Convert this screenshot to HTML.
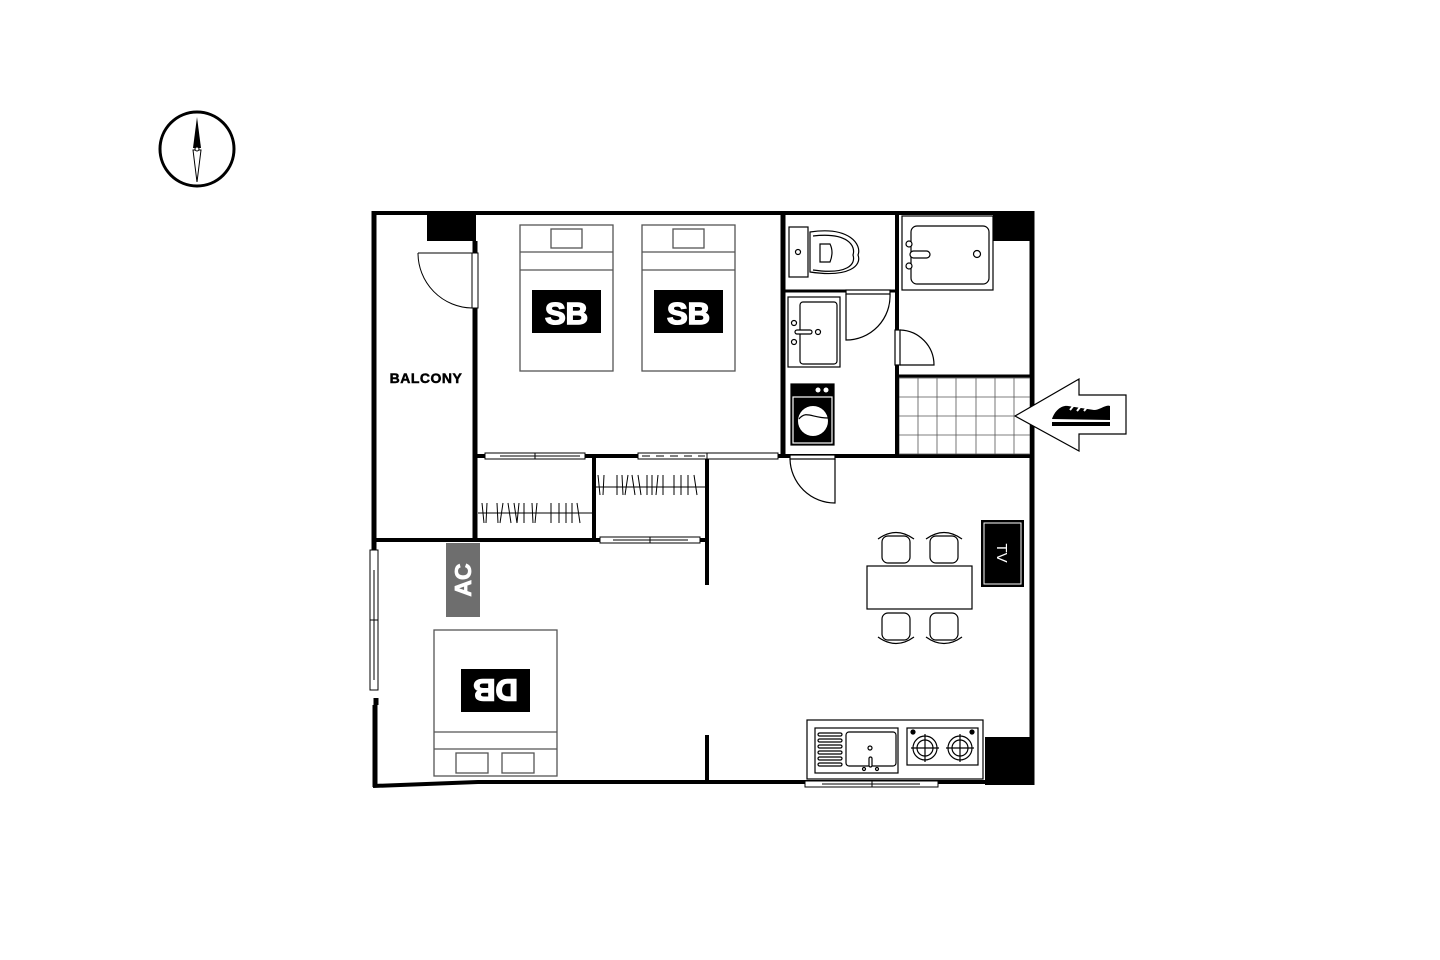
<!DOCTYPE html>
<html><head><meta charset="utf-8"><style>html,body{margin:0;padding:0;background:#fff}svg{display:block}</style></head><body>
<svg width="1440" height="960" viewBox="0 0 1440 960" xmlns="http://www.w3.org/2000/svg" font-family="Liberation Sans, sans-serif">
<rect width="1440" height="960" fill="#fff"/>
<circle cx="197" cy="149" r="37" fill="none" stroke="#000" stroke-width="3"/>
<polygon points="197,117 193,148 201,148" fill="#000"/>
<polygon points="197,182 193,150 201,150" fill="#fff" stroke="#000" stroke-width="1"/>
<circle cx="197" cy="149" r="2" fill="#fff" stroke="#000"/>

<g stroke="#000" fill="none">
<path d="M372,213 H1034" stroke-width="4"/>
<path d="M374,211 V550" stroke-width="5"/>
<path d="M376,698 V705" stroke-width="5"/>
<path d="M375,705 V787" stroke-width="5"/>
<path d="M373,786 L478,782 H1034" stroke-width="4"/>
<path d="M1032,211 V785" stroke-width="5"/>
<path d="M475,241 V253 M475,308 V540" stroke-width="5"/>
<path d="M783,213 V455" stroke-width="5"/>
<path d="M475,456 H1032" stroke-width="4"/>
<path d="M594,456 V540" stroke-width="4"/>
<path d="M707,456 V585 M707,735 V784" stroke-width="4"/>
<path d="M374,540 H707" stroke-width="4"/>
<path d="M785,291 H897" stroke-width="3"/>
<path d="M897,213 V330 M897,365 V455" stroke-width="4"/>
<path d="M897,376 H1032" stroke-width="3"/>
</g>
<rect x="427" y="213" width="49" height="28" fill="#000"/>
<rect x="993" y="213" width="41" height="28" fill="#000"/>
<rect x="985" y="737" width="49" height="48" fill="#000"/>

<g stroke="#000" fill="#fff" stroke-width="1">
<rect x="472" y="253" width="6" height="55"/>
<path d="M418,253 H472 M418,253 A55,55 0 0 0 472,308" fill="none"/>
<rect x="485" y="453" width="100" height="6"/>
<path d="M500,456 H580 M535,453 V459" fill="none"/>
<rect x="638" y="453" width="140" height="6"/>
<path d="M642,456 H705" stroke-dasharray="8,6" fill="none"/>
<path d="M707,453 V459" fill="none"/>
<rect x="600" y="537" width="100" height="6"/>
<path d="M613,540 H688 M650,537 V543" fill="none"/>
<rect x="370" y="550" width="8" height="140"/>
<path d="M374,570 V680 M370,620 H378" fill="none"/>
<rect x="805" y="781" width="133" height="6"/>
<path d="M822,784 H920 M872,781 V787" fill="none"/>
<path d="M478,513 H592 M596,487 H707" fill="none"/>
<path d="M482,503 l2,20 M487,503 l-1,20 M497,503 l1,20 M503,503 l-3,20 M508,503 l3,20 M514,503 l3,20 M519,503 l-2,20 M524,503 l0,20 M532,503 l1,20 M537,503 l-2,20 M551,503 l0,20 M559,503 l0,20 M566,503 l0,20 M572,503 l0,20 M577,503 l3,20" fill="none"/>
<path d="M598,475 l2,20 M604,475 l-1,20 M617,475 l0,20 M622,475 l1,20 M628,475 l-3,20 M632,475 l3,20 M638,475 l3,20 M647,475 l0,20 M652,475 l0,20 M658,475 l-2,20 M663,475 l0,20 M674,475 l0,20 M681,475 l0,20 M688,475 l0,20 M694,475 l3,20" fill="none"/>
</g>

<g stroke="#555" stroke-width="1.3" fill="#fff">
<rect x="520" y="225" width="93" height="146"/>
<path d="M520,252 H613 M520,270 H613"/>
<rect x="551" y="229" width="31" height="19"/>
<rect x="642" y="225" width="93" height="146"/>
<path d="M642,252 H735 M642,270 H735"/>
<rect x="673" y="229" width="31" height="19"/>
<rect x="434" y="630" width="123" height="146"/>
<path d="M434,732 H557 M434,749 H557"/>
<rect x="456" y="753" width="32" height="20"/>
<rect x="502" y="753" width="32" height="20"/>
</g>
<g font-weight="bold" fill="#fff" stroke="#fff" stroke-width="1.5" text-anchor="middle" font-size="31">
<rect x="532" y="290" width="69" height="43" fill="#000" stroke="none"/>
<text x="566.5" y="324">SB</text>
<rect x="654" y="290" width="69" height="43" fill="#000" stroke="none"/>
<text x="688.5" y="324">SB</text>
<rect x="461" y="669" width="69" height="43" fill="#000" stroke="none"/>
<text transform="translate(495.5,690.5) rotate(180)" y="11">DB</text>
</g>
<text x="426" y="383" font-size="14" font-weight="bold" fill="#000" stroke="#000" stroke-width="0.5" text-anchor="middle" letter-spacing="0.5">BALCONY</text>
<rect x="446" y="543" width="34" height="74" fill="#6e6e6e"/>
<text transform="translate(463,580) rotate(-90)" y="8" font-size="23" font-weight="bold" fill="#fff" stroke="#fff" stroke-width="0.8" text-anchor="middle">AC</text>

<g stroke="#000" stroke-width="1.2" fill="#fff">
<rect x="789" y="227" width="19" height="50"/>
<circle cx="798" cy="252" r="2.5"/>
<path d="M810,232 C850,226 862,245 858,255 C862,265 850,278 810,272 Z"/>
<path d="M813,236 C848,232 856,246 853,255 C856,264 848,275 813,270" fill="none"/>
<path d="M820,244 H830 Q834,252 830,262 H820 Z"/>
<rect x="788" y="297" width="52" height="70"/>
<rect x="800" y="302" width="37" height="62" rx="3"/>
<circle cx="794" cy="323" r="2.5"/><circle cx="794" cy="342" r="2.5"/>
<rect x="795" y="330" width="17" height="4" rx="2"/>
<circle cx="818" cy="332" r="2.5"/>
<rect x="791" y="384" width="43" height="61" fill="#000"/>
<rect x="793" y="397" width="39" height="46" fill="#000" stroke="#fff"/>
<circle cx="813" cy="421" r="15" fill="#fff" stroke="none"/>
<path d="M799,419 C806,410 812,418 828,418" stroke="#000" fill="none"/>
<circle cx="818" cy="390" r="2.5" fill="#fff" stroke="none"/><circle cx="826" cy="390" r="2.5" fill="#fff" stroke="none"/>
<rect x="846" y="290" width="44" height="4"/>
<path d="M846,294 V340 A44,44 0 0 0 890,294" fill="none"/>
<rect x="895" y="330" width="5" height="35"/>
<path d="M900,330 A35,35 0 0 1 934,365 H900" fill="none"/>
<rect x="790" y="455" width="45" height="4"/>
<path d="M835,459 V503 A45,45 0 0 1 790,459" fill="none"/>
<rect x="902" y="216" width="91" height="74"/>
<rect x="911" y="226" width="78" height="58" rx="6"/>
<circle cx="909" cy="244" r="3"/><circle cx="909" cy="266" r="3"/>
<rect x="910" y="251" width="20" height="7" rx="3.5"/>
<circle cx="977" cy="254" r="3.5"/>
</g>
<g stroke="#555" stroke-width="0.8">
<rect x="899" y="378" width="131" height="76" fill="#fff"/>
<path d="M918,378 V454 M937,378 V454 M956,378 V454 M976,378 V454 M995,378 V454 M1014,378 V454 M899,397 H1030 M899,416 H1030 M899,435 H1030"/>
</g>
<path d="M897,455 V376 M1032,376 V456" stroke="#000" stroke-width="4"/>
<polygon points="1015,416 1079,379 1079,395 1126,395 1126,434 1079,434 1079,451" fill="#fff" stroke="#000" stroke-width="1.2"/>
<path d="M1052,419 C1055,410 1062,405 1068,406 L1094,410 C1100,410 1106,404 1110,406 L1110,420 Z" fill="#000"/>
<rect x="1052" y="422" width="58" height="4" fill="#000"/>
<path d="M1070,410 l4,-5 M1077,411 l4,-5 M1084,411 l4,-5" stroke="#fff" stroke-width="2"/>

<g stroke="#000" stroke-width="1.2" fill="#fff">
<rect x="867" y="566" width="105" height="43"/>
<rect x="882" y="536" width="28" height="27" rx="6"/>
<path d="M878,539 Q896,526 914,539" fill="none"/>
<rect x="930" y="536" width="28" height="27" rx="6"/>
<path d="M926,539 Q944,526 962,539" fill="none"/>
<rect x="882" y="613" width="28" height="27" rx="6"/>
<path d="M878,637 Q896,650 914,637" fill="none"/>
<rect x="930" y="613" width="28" height="27" rx="6"/>
<path d="M926,637 Q944,650 962,637" fill="none"/>
</g>
<rect x="981" y="520" width="43" height="67" fill="#000"/>
<rect x="984" y="523" width="37" height="61" fill="none" stroke="#fff"/>
<text transform="translate(1002,553) rotate(90)" y="5" font-size="15" fill="#fff" text-anchor="middle">TV</text>

<g stroke="#000" stroke-width="1.2" fill="#fff">
<rect x="807" y="720" width="176" height="59"/>
<rect x="815" y="728" width="83" height="45"/>
<rect x="846" y="732" width="50" height="34" rx="3"/>
<circle cx="870" cy="748" r="2"/>
<rect x="869" y="757" width="3" height="10" rx="1.5"/>
<circle cx="864" cy="769" r="1.5"/><circle cx="877" cy="769" r="1.5"/>
<rect x="818" y="733" width="24" height="3" rx="1.5"/><rect x="818" y="739" width="24" height="3" rx="1.5"/><rect x="818" y="745" width="24" height="3" rx="1.5"/><rect x="818" y="751" width="24" height="3" rx="1.5"/><rect x="818" y="757" width="24" height="3" rx="1.5"/><rect x="818" y="763" width="24" height="3" rx="1.5"/>
<rect x="907" y="728" width="71" height="37"/>
<circle cx="925" cy="748" r="12"/><circle cx="925" cy="748" r="8"/>
<circle cx="960" cy="748" r="12"/><circle cx="960" cy="748" r="8"/>
<path d="M925,734 V762 M911,748 H939 M960,734 V762 M946,748 H974" fill="none"/>
<circle cx="913" cy="732" r="2" fill="#000"/><circle cx="972" cy="732" r="2" fill="#000"/>
</g>
</svg>
</body></html>
